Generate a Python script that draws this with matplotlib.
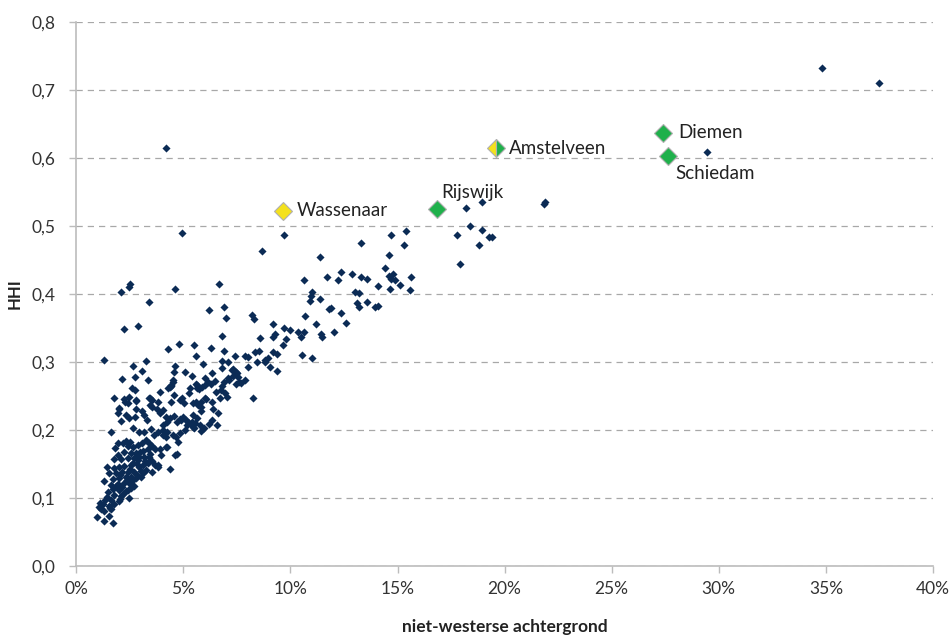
import matplotlib
matplotlib.use("Agg")
import matplotlib.pyplot as plt
from matplotlib.ticker import FuncFormatter, MultipleLocator

plt.rcParams['font.family'] = ['Lato', 'DejaVu Sans']

# share with non-western background (%) and HHI, municipalities
points = [
    (4.17,0.615),(4.95,0.49),(4.63,0.407),(2.08,0.403),(2.45,0.410),(2.5,0.415),(3.38,0.388),(2.22,0.348),
    (2.87,0.353),(1.3,0.303),(6.67,0.415),(6.9,0.381),(6.2,0.376),(7.0,0.365),(6.8,0.338),(4.3,0.319),
    (4.8,0.326),(5.5,0.325),(5.6,0.309),(6.3,0.32),(6.9,0.316),(7.4,0.309),(3.24,0.301),(2.64,0.294),
    (5.9,0.297),(6.8,0.301),(7.1,0.3),(4.63,0.294),
    (9.68,0.487),(8.66,0.463),(8.2,0.369),(8.3,0.363),(8.56,0.335),(9.2,0.356),(9.72,0.35),(10.0,0.347),
    (10.37,0.344),(9.3,0.341),(9.2,0.337),(9.77,0.334),(9.63,0.325),
    (7.87,0.309),(8.0,0.307),(8.33,0.315),(8.52,0.316),(9.17,0.315),(9.35,0.312),(8.94,0.306),(8.8,0.3),
    (9.03,0.293),(9.35,0.287),(8.43,0.3),(8.0,0.293),(6.8,0.291),(4.58,0.285),(5.1,0.285),(5.4,0.279),
    (6.0,0.276),(7.27,0.288),(7.5,0.284),(7.3,0.279),(7.13,0.274),(7.6,0.271),(7.7,0.269),(6.34,0.284),
    (6.48,0.272),(6.16,0.271),(6.0,0.266),(6.8,0.265),(6.9,0.271),(5.65,0.266),(5.3,0.262),(4.4,0.263),
    (4.54,0.274),(4.95,0.247),(3.9,0.256),(6.0,0.247),(6.94,0.254),(7.04,0.249),
    (11.4,0.454),(13.3,0.474),(14.7,0.487),(15.4,0.493),(15.3,0.472),(14.6,0.457),(14.4,0.438),(14.6,0.426),
    (14.8,0.429),(14.7,0.422),(14.86,0.421),(15.65,0.425),(15.1,0.413),(14.63,0.407),(15.6,0.406),
    (14.07,0.412),(12.87,0.429),(12.36,0.432),(12.2,0.421),(11.7,0.425),(13.3,0.425),(13.56,0.422),
    (10.65,0.421),(11.0,0.403),(10.97,0.397),(10.9,0.39),(11.39,0.393),(13.0,0.403),(13.2,0.401),
    (13.1,0.387),(13.2,0.381),(13.56,0.388),(13.93,0.381),(14.07,0.382),(11.8,0.378),(11.9,0.379),
    (12.36,0.372),(10.7,0.368),(11.2,0.356),(12.6,0.357),(11.43,0.341),(11.48,0.337),(12.04,0.344),
    (10.65,0.344),(10.5,0.337),(10.56,0.31),(11.0,0.306),
    (18.2,0.526),(18.94,0.535),(21.82,0.532),(21.9,0.535),(18.38,0.5),(17.8,0.487),(18.94,0.494),
    (19.26,0.484),(19.4,0.484),(18.8,0.472),(17.9,0.444),
    (29.44,0.609),(34.8,0.732),(37.5,0.71),
    (2.73,0.278),(3.06,0.287),(2.13,0.275),(3.33,0.274),(4.44,0.265),(4.3,0.262),(5.6,0.268),(5.74,0.26),
    (5.28,0.254),(6.53,0.256),(2.6,0.262),(2.73,0.259),(1.76,0.247),(2.22,0.246),(2.4,0.24),(2.78,0.243),
    (3.38,0.247),(3.84,0.241),(4.44,0.241),(4.58,0.251),(4.86,0.244),(5.05,0.24),(5.46,0.24),(5.7,0.237),
    (6.06,0.246),(6.34,0.241),(6.39,0.231),(6.62,0.225),(1.99,0.231),(2.31,0.222),(2.08,0.213),(1.94,0.225),
    (2.45,0.218),(2.73,0.219),(3.15,0.222),(3.29,0.215),(3.06,0.228),(2.78,0.231),(3.43,0.237),(3.52,0.244),
    (3.75,0.231),(3.89,0.225),(4.03,0.229),(4.21,0.219),(4.4,0.218),(4.26,0.212),(4.07,0.207),(4.58,0.221),
    (4.72,0.212),(4.86,0.216),(5.0,0.219),(5.14,0.215),(5.19,0.207),(5.42,0.212),(5.56,0.21),(5.65,0.218),
    (5.46,0.204),(5.79,0.207),(5.83,0.199),(5.97,0.203),(6.2,0.209),(6.34,0.215),(6.57,0.207),(1.62,0.197),
    (2.64,0.203),(2.92,0.197),(3.15,0.197),(3.47,0.201),(3.61,0.193),(3.8,0.197),(4.03,0.2),(4.03,0.193),
    (4.17,0.19),(4.26,0.197),(4.54,0.193),(4.68,0.19),(4.77,0.182),(4.26,0.175),(3.89,0.172),(3.98,0.163),
    (4.72,0.165),(4.4,0.143),(1.8,0.174),(1.94,0.181),(2.18,0.181),(2.31,0.184),(2.5,0.182),(2.4,0.176),
    (2.64,0.175),(2.87,0.178),(3.06,0.181),(3.24,0.185),(3.38,0.181),(3.56,0.176),(3.7,0.172),(3.33,0.172),
    (3.1,0.169),(2.78,0.166),(2.55,0.166),(2.22,0.168),(1.94,0.163),(1.76,0.157),(2.08,0.157),(2.4,0.159),
    (2.69,0.159),(2.92,0.16),(3.15,0.16),(3.38,0.16),(3.56,0.154),(3.66,0.149),(3.8,0.146),(3.33,0.151),
    (3.1,0.149),(2.82,0.15),(2.55,0.149),(2.22,0.147),(1.99,0.146),(1.76,0.144),(1.44,0.146),(1.53,0.137),
    (1.85,0.137),(2.13,0.138),(2.4,0.138),(2.69,0.138),(3.01,0.14),(3.24,0.141),(3.52,0.138),(2.31,0.131),
    (2.55,0.131),(1.99,0.129),(1.71,0.128),(1.3,0.125),(2.78,0.129),(3.01,0.131),(1.62,0.119),(1.94,0.121),
    (2.22,0.122),(2.5,0.121),(2.69,0.118),(1.71,0.113),(1.99,0.112),(2.31,0.11),(1.48,0.109),(1.76,0.104),
    (2.08,0.103),(1.44,0.101),(1.62,0.097),(1.99,0.096),(2.45,0.1),(2.55,0.115),(1.25,0.091),(1.06,0.087),
    (1.53,0.088),(1.3,0.081),(1.62,0.084),(1.76,0.091),(0.97,0.072),(1.3,0.066),(1.53,0.074),(1.71,0.063),
    (7.31,0.29),(7.45,0.285),(8.8,0.303),(7.08,0.276),(7.55,0.278),(7.87,0.274),(7.45,0.268),(5.88,0.263),
    (5.65,0.262),(6.3,0.268),(6.76,0.259),(6.71,0.247),(5.6,0.241),(5.83,0.241),(5.83,0.234),(5.83,0.228),
    (8.24,0.247),(5.46,0.222),(4.91,0.215),(5.23,0.212),(5.42,0.207),(5.1,0.2),(5.5,0.203),(4.86,0.196),
    (4.44,0.266),(4.54,0.271),(2.27,0.241),(2.45,0.249),(3.43,0.247),(1.99,0.232),(2.78,0.244),(3.52,0.234),
    (4.17,0.175),(4.63,0.163),(3.84,0.149),(1.58,0.085),(1.15,0.083),(1.1,0.093),(1.35,0.097),(2.05,0.098),
    (2.2,0.106),(2.4,0.112),(2.6,0.125),(2.85,0.134),(3.1,0.136),(2.95,0.146),(3.2,0.154),(3.45,0.165),
    (2.05,0.134),(1.85,0.118),(2.15,0.116),(2.35,0.127),(2.5,0.143),(2.65,0.152),(2.9,0.156),(3.0,0.167),
]
xs = [p[0] for p in points]
ys = [p[1] for p in points]

# highlighted municipalities
labels = ["Wassenaar", "Amstelveen", "Rijswijk", "Diemen", "Schiedam"]
hx = [9.67, 19.58, 16.82, 27.38, 27.62]
hy = [0.522, 0.614, 0.525, 0.637, 0.603]
hcolor = ["yellow", "both", "green", "green", "green"]

YELLOW = "#f4e11c"
GREEN = "#1fb04b"
NAVY = "#0b2b55"

fig = plt.figure(figsize=(9.53, 6.38), dpi=100)
ax = fig.add_axes([0.080, 0.113, 0.899, 0.853])

ax.scatter(xs, ys, marker='D', s=17, color=NAVY, linewidths=0, zorder=3)

for lab, x, y, c in zip(labels, hx, hy, hcolor):
    if c == "both":
        ax.plot(x, y, marker='D', markersize=9.5, fillstyle='left', markerfacecolor=YELLOW,
                markerfacecoloralt=GREEN, markeredgecolor="#b0b0b0", markeredgewidth=0.8,
                linestyle='none', zorder=4)
    else:
        ax.plot(x, y, marker='D', markersize=9.5, color=YELLOW if c == "yellow" else GREEN,
                markeredgecolor="#b0b0b0", markeredgewidth=0.8, linestyle='none', zorder=4)

txt = dict(fontsize=13.5, color="#222222", zorder=5)
ax.text(hx[0] + 0.6, hy[0], "Wassenaar", ha='left', va='center', **txt)
ax.text(hx[1] + 0.6, hy[1], "Amstelveen", ha='left', va='center', **txt)
ax.text(hx[2] + 0.2, hy[2] + 0.012, "Rijswijk", ha='left', va='bottom', **txt)
ax.text(hx[3] + 0.75, hy[3] + 0.0, "Diemen", ha='left', va='center', **txt)
ax.text(hx[4] + 0.35, hy[4] - 0.014, "Schiedam", ha='left', va='top', **txt)

ax.set_xlim(0, 40)
ax.set_ylim(0, 0.8)
ax.xaxis.set_major_locator(MultipleLocator(5))
ax.yaxis.set_major_locator(MultipleLocator(0.1))
ax.xaxis.set_major_formatter(FuncFormatter(lambda v, p: f"{v:.0f}%"))
ax.yaxis.set_major_formatter(FuncFormatter(lambda v, p: f"{v:.1f}".replace('.', ',')))

ax.grid(axis='y', linestyle=(0, (5, 4)), color="#a8a8a8", linewidth=0.9)
ax.set_axisbelow(True)
for s in ['top', 'right']:
    ax.spines[s].set_visible(False)
for s in ['left', 'bottom']:
    ax.spines[s].set_color("#bcbcbc")
    ax.spines[s].set_linewidth(1.2)
ax.tick_params(axis='both', colors="#bcbcbc", labelcolor="#333333", labelsize=12.5, length=5, width=1)
ax.tick_params(axis='y', pad=10)
ax.tick_params(axis='x', pad=6)

ax.set_ylabel("HHI", fontsize=12, fontweight='bold', color="#222222", labelpad=6)
ax.set_xlabel("niet-westerse achtergrond", fontsize=12.5, fontweight='bold', color="#222222", labelpad=16)

fig.savefig("out.png", dpi=100)
